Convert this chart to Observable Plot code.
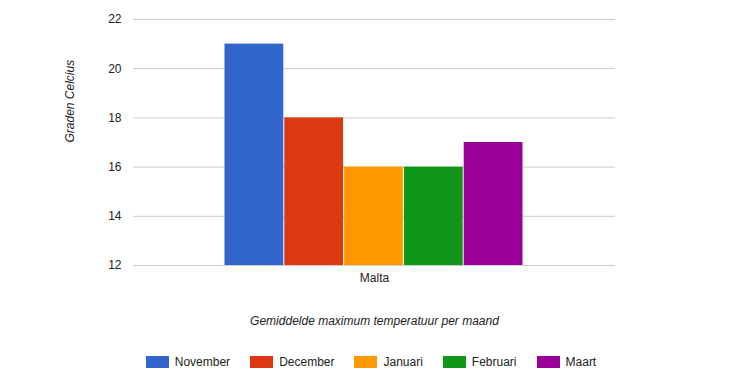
<!DOCTYPE html>
<html>
<head>
<meta charset="utf-8">
<script src="https://cdn.jsdelivr.net/npm/d3@7"></script>
<script src="https://cdn.jsdelivr.net/npm/@observablehq/plot@0.6"></script>
<style>
  body { margin: 0; background: #fff; font-family: Arial, "Liberation Sans", sans-serif; }
  #legend { display: flex; justify-content: center; align-items: center; height: 38px; padding-top: 6px; font-size: 12px; color: #222; padding-left: 8px; box-sizing: border-box; }
  .item { display: flex; align-items: center; margin: 0 10px; }
  .sw { width: 23px; height: 12px; margin-right: 6px; }
</style>
</head>
<body>
<div id="chart"></div>
<div id="legend"></div>
<script>
const country = "Malta";
const months = ["November", "December", "Januari", "Februari", "Maart"];
const temps = [21, 18, 16, 16, 17];
const yTicks = [12, 14, 16, 18, 20, 22];
const xTitle = "Gemiddelde maximum temperatuur per maand";
const yTitle = "Graden Celcius";
const palette = ["#3366cc", "#dc3912", "#ff9900", "#109618", "#990099"];

const data = months.map((m, i) => ({country, month: m, temp: temps[i]}));

const plot = Plot.plot({
  width: 734,
  height: 340,
  marginLeft: 133,
  marginRight: 119,
  marginTop: 19,
  marginBottom: 75,
  style: {fontFamily: "Arial, 'Liberation Sans', sans-serif", fontSize: "12px", color: "#222"},
  fx: {domain: [country], padding: 0, label: null, round: false},
  x: {domain: months, paddingInner: 0, paddingOuter: 1.53, axis: null, round: false},
  y: {domain: [12, 22], label: null},
  color: {domain: months, range: palette},
  marks: [
    Plot.gridY(yTicks, {stroke: "#cccccc", strokeOpacity: 1}),
    Plot.axisY(yTicks, {tickSize: 0, tickPadding: 12, label: null, fontSize: 12}),
    Plot.axisFx({anchor: "bottom", tickSize: 0, tickPadding: 8, label: null, fontSize: 12}),
    Plot.barY(data, {fx: "country", x: "month", y1: 12, y2: "temp", fill: "month", insetRight: 1}),
    Plot.text([xTitle], {frameAnchor: "bottom", dy: 59, fontStyle: "italic", fontSize: 12, fill: "#222"}),
    Plot.text([yTitle], {frameAnchor: "left", dx: -63, rotate: -90, fontStyle: "italic", fontSize: 12, fill: "#222"})
  ]
});
document.getElementById("chart").appendChild(plot);

const legend = document.getElementById("legend");
months.forEach((m, i) => {
  const it = document.createElement("div");
  it.className = "item";
  const sw = document.createElement("div");
  sw.className = "sw";
  sw.style.background = palette[i];
  const lb = document.createElement("span");
  lb.textContent = m;
  it.appendChild(sw);
  it.appendChild(lb);
  legend.appendChild(it);
});
</script>
</body>
</html>
